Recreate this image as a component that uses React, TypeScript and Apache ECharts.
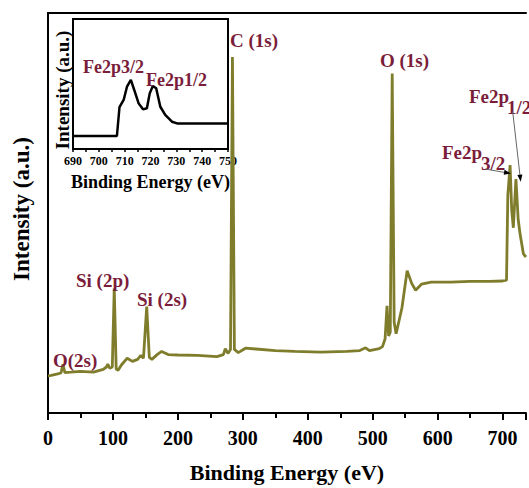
import React, { useEffect, useRef } from "react";
import * as echarts from "echarts";

// Main survey spectrum
const surveyEnergy = [0, 5, 15, 20, 23, 26, 35, 50, 70, 85, 90, 92, 95, 99, 102, 105, 108, 113, 122, 130, 138, 143, 147, 152, 156, 160, 168, 175, 185, 200, 230, 260, 270, 273, 277, 281, 284, 287, 293, 304, 320, 350, 380, 420, 460, 480, 489, 495, 510, 515, 519, 522, 524.5, 527, 530, 533, 536, 540, 545, 553, 560, 566, 575, 590, 620, 650, 680, 700, 706, 708, 711.5, 714, 716.5, 720.5, 724, 727, 732, 736];
const surveyIntensity = [9.3, 9.4, 9.8, 10.0, 12.2, 10.1, 10.2, 10.4, 10.2, 10.9, 11.5, 12.2, 11.2, 11.5, 31.2, 11.0, 10.7, 12.0, 13.7, 12.9, 13.4, 14.4, 13.7, 26.6, 13.9, 13.4, 14.6, 15.4, 14.6, 14.5, 14.4, 14.1, 14.6, 16.1, 14.9, 15.9, 89.0, 15.9, 15.1, 16.2, 16.0, 15.6, 15.4, 15.2, 15.4, 15.6, 16.3, 15.6, 16.1, 16.6, 18.5, 26.8, 19.3, 20.2, 84.9, 22.7, 19.8, 22.7, 26.3, 35.6, 32.4, 30.7, 32.2, 32.7, 32.7, 32.9, 32.9, 33.0, 33.2, 54.4, 62.0, 50.7, 46.3, 58.5, 48.3, 44.6, 39.8, 39.0];

// Inset Fe 2p spectrum
const insetEnergy = [690, 700, 707, 708, 709.6, 710.9, 712.4, 713.7, 715.4, 717.1, 718.6, 719.7, 720.9, 722.2, 723.8, 725.7, 728.3, 730.3, 740, 750];
const insetIntensity = [10, 10, 10, 32.3, 37.7, 47.9, 53.1, 45.4, 35.1, 30.5, 31.3, 42.8, 48.5, 46.7, 32.5, 26.2, 21, 19.7, 19.7, 19.7];

const mainTicks = [0, 100, 200, 300, 400, 500, 600, 700];
const insetTicks = [690, 700, 710, 720, 730, 740, 750];

const FONT = "'Liberation Serif', 'Times New Roman', serif";
const LINE = "#7f7d2c";
const LABEL = "#7a1d3a";

export default function App() {
  const ref = useRef<HTMLDivElement>(null);
  useEffect(() => {
    if (!ref.current) return;
    const chart = echarts.init(ref.current, null, { renderer: "svg" });
    const survey = surveyEnergy.map((e, i) => [e, surveyIntensity[i]]);
    const inset = insetEnergy.map((e, i) => [e, insetIntensity[i]]);
    const lbl = (text: string, x: number, y: number, size = 19) => ({
      type: "text",
      x,
      y,
      z: 10,
      style: { text, fill: LABEL, font: `bold ${size}px ${FONT}`, verticalAlign: "middle" },
    });
    chart.setOption({
      animation: false,
      backgroundColor: "#fff",
      grid: [
        { left: 48, right: 0, top: 13, bottom: 65 },
        { left: 73, top: 19, width: 155, height: 130, show: true, borderColor: "#000", borderWidth: 2, backgroundColor: "#fff" },
      ],
      xAxis: [
        {
          gridIndex: 0, type: "value", min: 0, max: 736, interval: 100,
          axisLine: { lineStyle: { color: "#000", width: 2 } },
          axisTick: { show: true, length: 7, lineStyle: { color: "#000", width: 2 } },
          minorTick: { show: true, splitNumber: 2, length: 5, lineStyle: { color: "#000", width: 2 } },
          axisLabel: {
            margin: 15, color: "#000", fontSize: 20, fontWeight: "bold", fontFamily: FONT,
            formatter: (v: number) => (mainTicks.includes(v) ? String(v) : ""),
          },
          splitLine: { show: false },
          name: "Binding Energy (eV)", nameLocation: "middle", nameGap: 48,
          nameTextStyle: { color: "#000", fontSize: 22, fontWeight: "bold", fontFamily: FONT },
        },
        {
          gridIndex: 0, type: "value", position: "top", min: 0, max: 736,
          axisLine: { lineStyle: { color: "#000", width: 2 } },
          axisTick: { show: false }, axisLabel: { show: false }, splitLine: { show: false },
        },
        {
          gridIndex: 1, type: "value", min: 690, max: 750, interval: 10,
          axisLine: { lineStyle: { color: "#000", width: 2 } },
          axisTick: { show: true, length: 3, lineStyle: { color: "#000", width: 1.5 } },
          minorTick: { show: true, splitNumber: 2, length: 3, lineStyle: { color: "#000", width: 1.5 } },
          axisLabel: {
            margin: 6, color: "#000", fontSize: 12, fontWeight: "bold", fontFamily: FONT,
            formatter: (v: number) => (insetTicks.includes(v) ? String(v) : ""),
          },
          splitLine: { show: false },
          name: "Binding Energy (eV)", nameLocation: "middle", nameGap: 24,
          nameTextStyle: { color: "#000", fontSize: 18, fontWeight: "bold", fontFamily: FONT },
        },
      ],
      yAxis: [
        {
          gridIndex: 0, type: "value", min: 0, max: 100,
          axisLine: { show: true, lineStyle: { color: "#000", width: 2 } },
          axisTick: { show: false }, axisLabel: { show: false }, splitLine: { show: false },
        },
        {
          gridIndex: 1, type: "value", min: 0, max: 100,
          axisLine: { show: true, lineStyle: { color: "#000", width: 2 } },
          axisTick: { show: false }, axisLabel: { show: false }, splitLine: { show: false },
        },
      ],
      series: [
        {
          type: "line", xAxisIndex: 0, yAxisIndex: 0, data: survey, showSymbol: false, z: 5,
          lineStyle: { color: LINE, width: 2.8 },
        },
        {
          type: "line", xAxisIndex: 2, yAxisIndex: 1, data: inset, showSymbol: false,
          lineStyle: { color: "#000", width: 2.5 },
        },
      ],
      graphic: [
        {
          type: "text", x: 21, y: 209, rotation: Math.PI / 2,
          style: { text: "Intensity (a.u.)", fill: "#000", font: `bold 23px ${FONT}`, align: "center", verticalAlign: "middle" },
        },
        {
          type: "text", x: 62, y: 90, rotation: Math.PI / 2,
          style: { text: "Intensity (a.u.)", fill: "#000", font: `bold 19px ${FONT}`, align: "center", verticalAlign: "middle" },
        },
        lbl("C (1s)", 230, 40),
        lbl("O (1s)", 380, 60),
        lbl("Si (2p)", 76, 280),
        lbl("Si (2s)", 137, 299),
        lbl("O(2s)", 53, 360),
        lbl("Fe2p", 469, 96),
        lbl("1/2", 507, 107),
        lbl("Fe2p", 442, 152),
        lbl("3/2", 481, 163),
        lbl("Fe2p3/2", 83, 67, 18),
        lbl("Fe2p1/2", 146, 80, 18),
        { type: "line", z: 10, shape: { x1: 485, y1: 169, x2: 505, y2: 172.5 }, style: { stroke: "#666", lineWidth: 1 } },
        { type: "polygon", z: 10, shape: { points: [[511, 173.5], [503.7, 174.8], [504.5, 169.8]] }, style: { fill: "#000" } },
        { type: "line", z: 10, shape: { x1: 512.7, y1: 111.7, x2: 520, y2: 175.5 }, style: { stroke: "#666", lineWidth: 1 } },
        { type: "polygon", z: 10, shape: { points: [[520.7, 181.7], [517.4, 175.0], [522.4, 174.5]] }, style: { fill: "#000" } },
      ],
    });
    return () => chart.dispose();
  }, []);
  return <div ref={ref} style={{ position: "fixed", left: 0, top: 0, width: 529, height: 488 }} />;
}
